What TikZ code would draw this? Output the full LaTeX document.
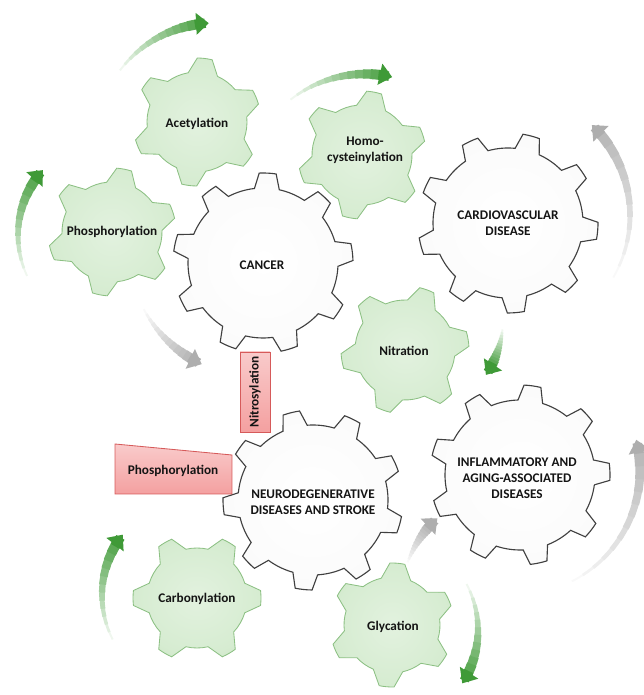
\documentclass[tikz,border=0pt]{standalone}
\usepackage{fontspec}
\setmainfont{Carlito}
\usetikzlibrary{calc,arrows.meta}
\definecolor{gearfill}{HTML}{D6ECD1}
\definecolor{gearrim}{HTML}{BEDDB6}
\definecolor{gearline}{HTML}{8CC083}
\definecolor{arrowgreen}{HTML}{3F9A37}
\definecolor{arrowgray}{HTML}{AEAEAE}
\definecolor{boxred}{HTML}{F4A0A0}
\definecolor{boxline}{HTML}{D65A5A}
\pgfdeclareradialshading{whiteshade}{\pgfpoint{0bp}{0bp}}{color(0bp)=(white); color(32bp)=(black!2); color(42bp)=(black!9); color(50bp)=(black!15)}
\pgfdeclareradialshading{greenshade}{\pgfpoint{0bp}{0bp}}{color(0bp)=(gearfill!70!white); color(24bp)=(gearfill); color(42bp)=(gearrim); color(50bp)=(gearrim)}
% gear: [style](centre)(teeth:rotation:tip radius:root radius:tip width:root width)
\def\gear[#1](#2)(#3:#4:#5:#6:#7:#8){%
	\pgfmathsetmacro\gstep{360/#3}
	\pgfmathsetmacro\gtip{deg(#7/2/#5)}
	\pgfmathsetmacro\groot{deg(#8/2/#6)}
	\draw[#1, shift={(#2)}, rotate=#4] (-\groot:#6)
		\foreach \i in {1,...,#3}{
			-- ({(\i-1)*\gstep-\gtip}:#5) arc[start angle={(\i-1)*\gstep-\gtip}, end angle={(\i-1)*\gstep+\gtip}, radius=#5]
			-- ({(\i-1)*\gstep+\groot}:#6) arc[start angle={(\i-1)*\gstep+\groot}, end angle={\i*\gstep-\groot}, radius=#6]
		} -- cycle;
}
% swoosh: [colour](centre)(start:end:radius)
\def\swoosh[#1](#2)(#3:#4:#5){%
	\pgfmathsetmacro\swE{(#4)-sign((#4)-(#3))*deg(14/#5)}
	\foreach \k in {0,...,11}{
		\pgfmathsetmacro\swA{(#3)+(\swE-(#3))*\k/12}
		\pgfmathsetmacro\swB{(#3)+(\swE-(#3))*(\k+1.3)/12}
		\pgfmathsetmacro\swW{1.4+0.52*\k}
		\pgfmathtruncatemacro\swC{8+7*\k}
		\draw[draw=#1!\swC, line width=\swW pt] ($(#2)+(\swA:#5)$) arc (\swA:\swB:#5);
	}
	\draw[draw=#1, line width=7pt, -{Triangle[width=15pt,length=9pt]}] ($(#2)+(\swE:#5)$) arc (\swE:#4:#5);
}
\tikzset{
	whitegear/.style={draw=black!75, line width=0.8pt, shade, shading=whiteshade},
	greengear/.style={draw=gearline, line width=0.6pt, shade, shading=greenshade},
	gtext/.style={font=\bfseries\fontsize{9.4}{11.5}\selectfont, align=center, text=black!92},
	redbox/.style={draw=boxline, line width=0.6pt, top color=boxred!55, bottom color=boxred}
}

\begin{document}
\begin{tikzpicture}[x=0.025cm, y=0.025cm]
		%%%%% START %%%%%
		\useasboundingbox (0,0) rectangle (643,695);
		
		\gear[whitegear](263,432)(9:7:90:75:17:25);
		\gear[whitegear](508,472)(9:-5:90:75:17:25);
		\gear[whitegear](313,195)(9:24:90:75:17:25);
		\gear[whitegear](520,220)(9:2:90:75:17:25);
		
		\gear[greengear](197,573)(6:23:64:50:15:30);
		\gear[greengear](112,463)(6:19:64:50:15:30);
		\gear[greengear](362,540)(6:19:64:50:15:30);
		\gear[greengear](405,345)(6:10:64:50:15:30);
		\gear[greengear](197,97)(6:0:64:50:15:30);
		\gear[greengear](392,70)(6:25:62:48:15:30);
		
		\node[gtext] (cancer) at (262,430) {CANCER};
		\node[gtext] (cardio) at (508,472) {CARDIOVASCULAR\\DISEASE};
		\node[gtext] (neuro) at (313,193) {NEURODEGENERATIVE\\DISEASES AND STROKE};
		\node[gtext] (inflam) at (517,217) {INFLAMMATORY AND\\AGING-ASSOCIATED\\DISEASES};
		
		\node[gtext] (acetyl) at (197,571) {Acetylation};
		\node[gtext] (phospho) at (112,463) {Phosphorylation};
		\node[gtext] (homocys) at (365,545) {Homo-\\cysteinylation};
		\node[gtext] (nitration) at (404,344) {Nitration};
		\node[gtext] (carbonyl) at (197,96) {Carbonylation};
		\node[gtext] (glycation) at (393,68) {Glycation};
		
		\swoosh[arrowgreen](215,553)(143:93:119);
		\swoosh[arrowgreen](115,460)(205:138:97);
		\swoosh[arrowgreen](365,500)(128:77:121);
		\swoosh[arrowgreen](403,376)(-6:-34:100);
		\swoosh[arrowgreen](200,100)(207:142:98);
		\swoosh[arrowgreen](380,65)(28:-33:98);
		
		\swoosh[arrowgray](255,445)(208:245:126);
		\swoosh[arrowgray](505,480)(-30:46:125);
		\swoosh[arrowgray](511,95)(160:132:110);
		\swoosh[arrowgray](515,225)(-63:14:125);
		
		\node[redbox, gtext, rotate=90, minimum width=2cm, minimum height=0.75cm, inner sep=0pt] (nitrosyl) at (255,303) {Nitrosylation};
		\draw[redbox] (115,251) -- (232,240) -- (232,201) -- (115,201) -- cycle;
		\node[gtext] (phosbox) at (173,224) {Phosphorylation};
		
		%%%%% END %%%%%
\end{tikzpicture}
\end{document}
